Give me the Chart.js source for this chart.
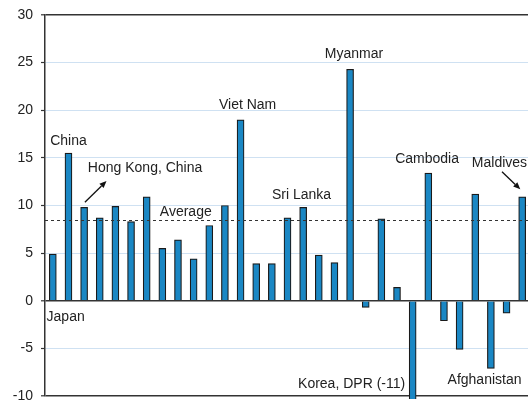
<!DOCTYPE html>
<html>
<head>
<meta charset="utf-8">
<script src="https://cdn.jsdelivr.net/npm/chart.js@4/dist/chart.umd.min.js"></script>
<style>
  html, body { margin: 0; padding: 0; background: #fff; overflow: hidden; }
  #wrap { position: relative; width: 528px; height: 401px; overflow: hidden; }
  #chart { display: block; }
</style>
</head>
<body>
<div id="wrap"><canvas id="chart" width="530" height="401"></canvas></div>
<script>
// Economies in the order they are plotted
const economies = [
  'Japan', 'China', 'Hong Kong, China', 'E4', 'E5', 'E6', 'E7', 'E8', 'E9', 'E10',
  'E11', 'E12', 'Viet Nam', 'E14', 'E15', 'E16', 'Sri Lanka', 'E18', 'E19', 'Myanmar',
  'E21', 'E22', 'E23', 'Korea, DPR', 'Cambodia', 'E26', 'E27', 'E28', 'Afghanistan', 'E30',
  'Maldives'
];

// Percentage change per economy
const changes = [
  4.9, 15.5, 9.8, 8.7, 9.9, 8.3, 10.9, 5.5, 6.4, 4.4,
  7.9, 10.0, 19.0, 3.9, 3.9, 8.7, 9.8, 4.8, 4.0, 24.3,
  -0.7, 8.6, 1.4, -11, 13.4, -2.1, -5.1, 11.2, -7.1, -1.3,
  10.9
];

const averageChange = 8.5;

// Axis range and tick spacing
const yMin = -10;
const yMax = 30;
const yStep = 5;

// Text annotations: [text, category position, value at baseline, alignment]
const notes = [
  ['China', 1, 16.36, 'center'],
  ['Hong Kong, China', 2.24, 13.55, 'left'],
  ['Average', 6.84, 8.95, 'left'],
  ['Japan', -0.40, -2.1, 'left'],
  ['Viet Nam', 12.45, 20.14, 'center'],
  ['Myanmar', 19.25, 25.46, 'center'],
  ['Sri Lanka', 15.9, 10.63, 'center'],
  ['Cambodia', 23.92, 14.43, 'center'],
  ['Maldives', 28.55, 14.01, 'center'],
  ['Korea, DPR (-11)', 22.52, -9.2, 'right'],
  ['Afghanistan', 25.23, -8.75, 'left']
];

// Pointer arrows: [from category, from value, to category, to value]
const arrows = [
  [2.05, 10.34, 3.43, 12.57],
  [28.71, 13.55, 29.88, 11.70]
];

const FONT = '"Liberation Sans", Arial, sans-serif';
const INK = '#222222';
const AXIS = '#333333';

const overlay = {
  id: 'overlay',
  afterDatasetsDraw(chart) {
    const { ctx, chartArea, scales } = chart;
    const xs = scales.x, ys = scales.y;
    const px = v => xs.getPixelForValue(v);
    const py = v => ys.getPixelForValue(v);

    ctx.save();
    // dotted average line
    ctx.strokeStyle = AXIS;
    ctx.lineWidth = 1.2;
    ctx.setLineDash([3, 3]);
    const ay = Math.round(py(averageChange)) + 0.5;
    ctx.beginPath();
    ctx.moveTo(chartArea.left, ay);
    ctx.lineTo(chartArea.right, ay);
    ctx.stroke();
    ctx.setLineDash([]);

    // labels
    ctx.fillStyle = INK;
    ctx.font = '14px ' + FONT;
    ctx.textBaseline = 'alphabetic';
    notes.forEach(([t, c, v, a]) => {
      ctx.textAlign = a;
      ctx.fillText(t, px(c), py(v));
    });

    // arrows
    ctx.strokeStyle = '#111';
    ctx.fillStyle = '#111';
    ctx.lineWidth = 1.3;
    arrows.forEach(([c0, v0, c1, v1]) => {
      const x0 = px(c0), y0 = py(v0), x1 = px(c1), y1 = py(v1);
      const ang = Math.atan2(y1 - y0, x1 - x0);
      const hl = 7, hw = 3;
      const bx = x1 - hl * Math.cos(ang), by = y1 - hl * Math.sin(ang);
      ctx.beginPath();
      ctx.moveTo(x0, y0);
      ctx.lineTo(bx, by);
      ctx.stroke();
      ctx.beginPath();
      ctx.moveTo(x1, y1);
      ctx.lineTo(bx + hw * Math.sin(ang), by - hw * Math.cos(ang));
      ctx.lineTo(bx - hw * Math.sin(ang), by + hw * Math.cos(ang));
      ctx.closePath();
      ctx.fill();
    });
    ctx.restore();
  }
};

const isDark = v => v === yMax || v === 0 || v === yMin;

new Chart(document.getElementById('chart'), {
  type: 'bar',
  data: {
    labels: economies,
    datasets: [{
      data: changes,
      backgroundColor: '#1a87c4',
      borderColor: '#1a1a1a',
      borderWidth: 1.2,
      categoryPercentage: 1,
      barThickness: 7,
      clip: { left: 0, top: 0, right: 0, bottom: 3 }
    }]
  },
  options: {
    responsive: false,
    animation: false,
    events: [],
    layout: { padding: { top: 15, bottom: 5, left: 0, right: 0 } },
    plugins: { legend: { display: false }, tooltip: { enabled: false } },
    scales: {
      x: { display: false },
      y: {
        min: yMin,
        max: yMax,
        afterFit(scale) {
          scale.width = 45;
          scale.paddingTop = 0;
          scale.paddingBottom = 0;
        },
        border: { display: true, color: AXIS, width: 1.5 },
        grid: {
          color: c => isDark(c.tick.value) ? AXIS : '#cfe1f2',
          lineWidth: c => isDark(c.tick.value) ? 1.6 : 1,
          tickColor: AXIS,
          tickLength: 4,
          tickWidth: 1.2
        },
        ticks: {
          stepSize: yStep,
          padding: 8,
          color: INK,
          font: { family: FONT, size: 14 }
        }
      }
    }
  },
  plugins: [overlay]
});
</script>
</body>
</html>
